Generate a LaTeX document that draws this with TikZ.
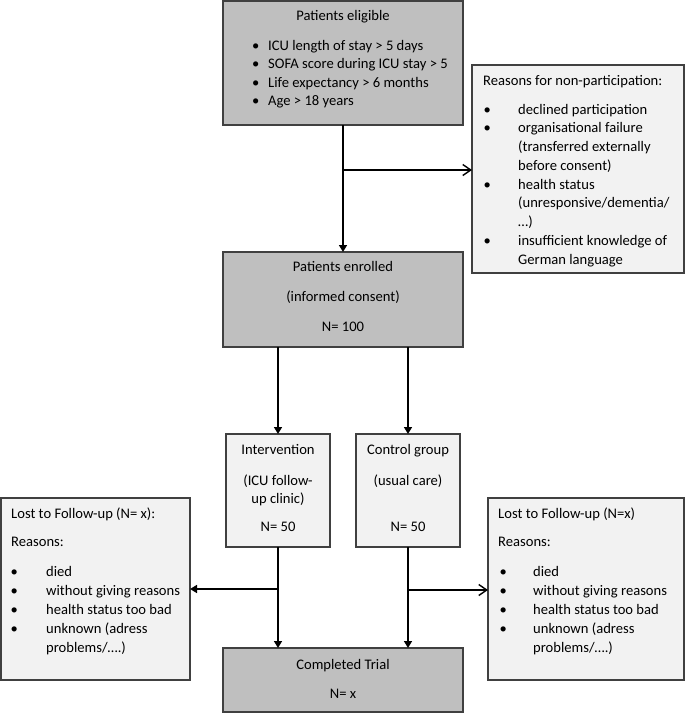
\documentclass[tikz,border=0pt]{standalone}
\usepackage{fontspec}
\setmainfont{Carlito}
\usetikzlibrary{arrows.meta}
\definecolor{darkfill}{HTML}{BFBFBF}
\definecolor{lightfill}{HTML}{F2F2F2}
\definecolor{edge}{HTML}{404040}
\begin{document}
\begin{tikzpicture}[x=1pt,y=-1pt,
  every node/.style={font=\fontsize{14.6}{18.75}\selectfont},
  boxd/.style={draw=edge, line width=1.2pt, fill=darkfill, anchor=north west, inner sep=0pt, outer sep=0pt},
  boxl/.style={draw=edge, line width=1.2pt, fill=lightfill, anchor=north west, inner sep=0pt, outer sep=0pt},
  tl/.style={anchor=base west, inner sep=0pt},
  tc/.style={anchor=base, inner sep=0pt},
  fa/.style={line width=1.6pt, -{Triangle[length=7pt,width=8pt]}},
  oa/.style={line width=1.6pt, -{Straight Barb[length=8pt,width=11pt,line width=1.4pt]}},
]
\useasboundingbox (0,0) rectangle (685,713);
% boxes
\node[boxd, minimum width=240pt, minimum height=124pt] (elig) at (223,1) {};
\node[boxl, minimum width=212pt, minimum height=208pt] (reas) at (472,65) {};
\node[boxd, minimum width=240pt, minimum height=95pt] (enr) at (223,252) {};
\node[boxl, minimum width=104pt, minimum height=113pt] (int) at (226,434) {};
\node[boxl, minimum width=104pt, minimum height=113pt] (ctrl) at (356,434) {};
\node[boxl, minimum width=189pt, minimum height=182pt] (lostL) at (1,498) {};
\node[boxl, minimum width=196pt, minimum height=182pt] (lostR) at (488,498) {};
\node[boxd, minimum width=240pt, minimum height=64pt] (comp) at (223,648) {};

% eligible text
\node[tc] (e0) at (343,20) {Patients eligible};
\foreach \t/\y [count=\i] in {{ICU length of stay > 5 days}/50,{SOFA score during ICU stay > 5}/68.5,{Life expectancy > 6 months}/87,{Age > 18 years}/105.5}
  \node[tl] (e\i) at (252,\y) {\makebox[16pt][l]{\textbullet}\t};

% reasons text
\node[tl] (r0) at (483,85) {Reasons for non-participation:};
\foreach \t/\y [count=\i] in {{\textbullet}/114,{\textbullet}/132.75,{\textbullet}/189,{\textbullet}/245.25}
  \node[tl] (rb\i) at (483.5,\y) {\t};
\foreach \t/\y [count=\i] in {{declined participation}/114,{organisational failure}/132.75,{(transferred externally}/151.5,{before consent)}/170.25,{health status}/189,{(unresponsive/dementia/}/207.75,{…)}/226.5,{insufficient knowledge of}/245.25,{German language}/264}
  \node[tl] (r\i) at (518,\y) {\t};

% enrolled
\node[tc] (n1) at (343,271) {Patients enrolled};
\node[tc] (n2) at (343,301) {(informed consent)};
\node[tc] (n3) at (343,331) {N= 100};

% intervention
\node[tc] (i1) at (278,454) {Intervention};
\node[tc] (i2) at (278,485) {(ICU follow-};
\node[tc] (i3) at (278,503) {up clinic)};
\node[tc] (i4) at (278,531) {N= 50};

% control
\node[tc] (c1) at (408,454) {Control group};
\node[tc] (c2) at (408,485) {(usual care)};
\node[tc] (c3) at (408,531) {N= 50};

% completed
\node[tc] (k1) at (343,669) {Completed Trial};
\node[tc] (k2) at (343,698) {N= x};

% lost left
\node[tl] (l0) at (11,518) {Lost to Follow-up (N= x):};
\node[tl] (l1) at (11,546) {Reasons:};
\foreach \t/\y [count=\i] in {{died}/576,{without giving reasons}/595,{health status too bad}/614,{unknown (adress}/633}
  \node[tl] (lb\i) at (10.5,\y) {\makebox[35.5pt][l]{\textbullet}\t};
\node[tl] (l6) at (46,652) {problems/….)};

% lost right
\node[tl] (q0) at (498,518) {Lost to Follow-up (N=x)};
\node[tl] (q1) at (498,546) {Reasons:};
\foreach \t/\y [count=\i] in {{died}/576,{without giving reasons}/595,{health status too bad}/614,{unknown (adress}/633}
  \node[tl] (qb\i) at (499.5,\y) {\makebox[33.5pt][l]{\textbullet}\t};
\node[tl] (q6) at (533,652) {problems/….)};

% connectors
\draw[fa] (elig.south) -- (enr.north);
\coordinate (b1) at (343,170);
\draw[oa] (b1) -- (reas.west |- b1);
\draw[fa] (int.north |- enr.south) -- (int.north);
\draw[fa] (ctrl.north |- enr.south) -- (ctrl.north);
\draw[fa] (int.south) -- (int.south |- comp.north);
\draw[fa] (ctrl.south) -- (ctrl.south |- comp.north);
\coordinate (b2) at (278,589);
\draw[fa] (b2) -- (lostL.east |- b2);
\coordinate (b3) at (408,590);
\draw[oa] (b3) -- (lostR.west |- b3);
\end{tikzpicture}
\end{document}
